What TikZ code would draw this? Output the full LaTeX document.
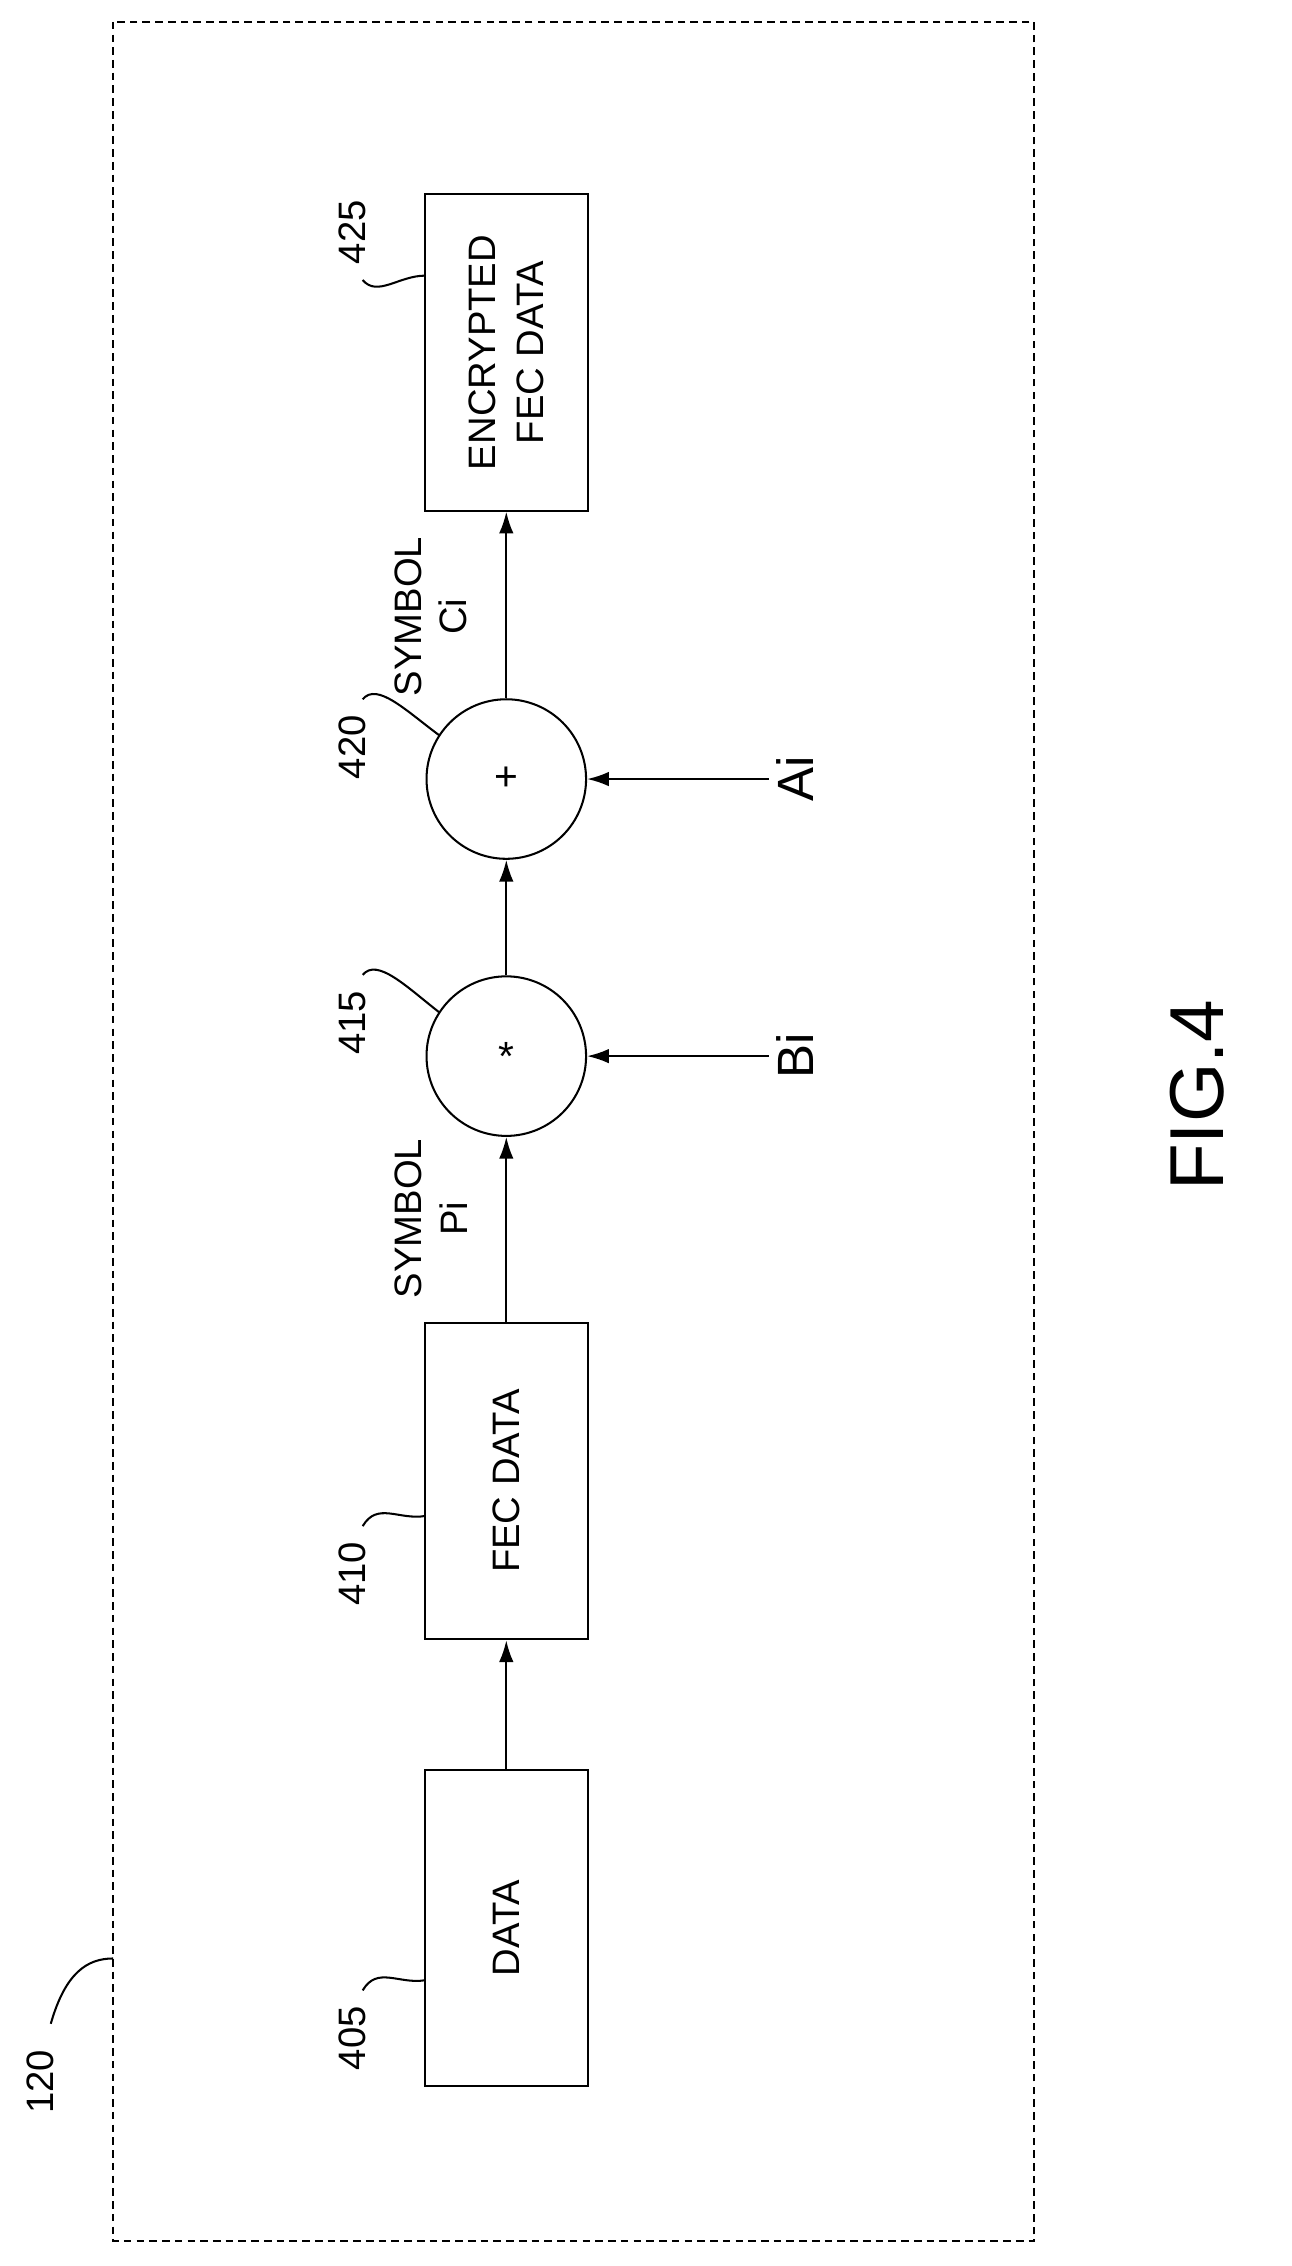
\documentclass[tikz,border=0pt]{standalone}
\usepackage{fontspec}
\setmainfont{Liberation Sans}
\usetikzlibrary{arrows.meta}
\tikzset{
  blk/.style={draw, thick, rotate=90, minimum width=4.36cm, minimum height=2.24cm, align=center, font=\fontsize{15}{19}\selectfont},
  op/.style={draw, thick, circle, minimum size=2.2cm, inner sep=0pt, font=\fontsize{16}{18}\selectfont},
  lbl/.style={rotate=90, font=\fontsize{15}{18}\selectfont, align=center},
  flow/.style={thick, -{Latex[length=3mm,width=2mm]}},
  lead/.style={thick}
}
\begin{document}
\begin{tikzpicture}[x=0.02cm, y=-0.02cm]
	\useasboundingbox (0,0) rectangle (890,1562);
	\draw[thick, densely dashed] (78,15) rectangle (713,1545); % outer frame
	\node[lbl] (l120) at (28,1435) {120};
	\draw[lead] (35,1395) .. controls (45,1360) and (60,1350) .. (78,1350);
	% blocks
	\node[blk] (data) at (349,1329) {DATA};
	\node[blk] (fec) at (349,1021) {FEC DATA};
	\node[op] (mul) at (349,728) {*};
	\node[op] (add) at (349,537) {+};
	\node[blk] (enc) at (349,243) {ENCRYPTED\\FEC DATA};
	\coordinate (bin) at (530,728);
	\coordinate (ain) at (530,537);
	% connectors
	\draw[flow] (data) -- (fec);
	\draw[flow] (fec) -- (mul);
	\draw[flow] (mul) -- (add);
	\draw[flow] (add) -- (enc);
	\draw[flow] (bin) -- (mul);
	\draw[flow] (ain) -- (add);
	% texts
	\node[lbl] (pi) at (297,840) {SYMBOL\\Pi};
	\node[lbl] (ci) at (297,425) {SYMBOL\\Ci};
	\node[lbl, font=\fontsize{20}{22}\selectfont] (bi) at (548,728) {Bi};
	\node[lbl, font=\fontsize{20}{22}\selectfont] (ai) at (548,537) {Ai};
	% reference numerals
	\node[lbl] (n405) at (243,1405) {405};
	\draw[lead] (250,1372) .. controls (260,1355) and (275,1368) .. (293,1365);
	\node[lbl] (n410) at (243,1085) {410};
	\draw[lead] (250,1052) .. controls (260,1035) and (275,1048) .. (293,1045);
	\node[lbl] (n415) at (243,705) {415};
	\draw[lead] (250,672) .. controls (260,660) and (280,680) .. (303,698);
	\node[lbl] (n420) at (243,515) {420};
	\draw[lead] (250,482) .. controls (260,470) and (280,490) .. (303,507);
	\node[lbl] (n425) at (243,160) {425};
	\draw[lead] (250,193) .. controls (260,205) and (275,190) .. (293,190);
	\node[lbl, font=\fontsize{30}{32}\selectfont] (fig) at (825,755) {FIG.4};
\end{tikzpicture}
\end{document}
